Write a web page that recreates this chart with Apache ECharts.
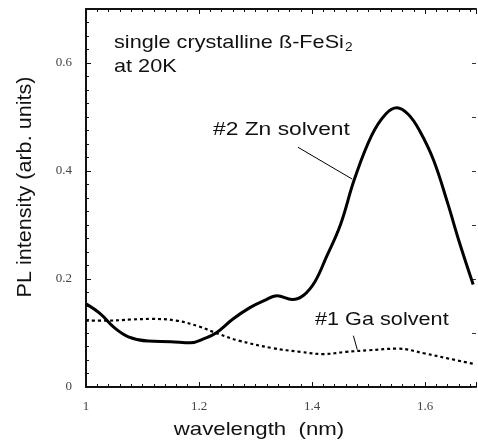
<!DOCTYPE html>
<html>
<head>
<meta charset="utf-8">
<script src="https://cdn.jsdelivr.net/npm/echarts@6/dist/echarts.min.js"></script>
<style>
  html, body { margin: 0; padding: 0; background: #fff; }
  #chart { width: 478px; height: 448px; }
</style>
</head>
<body>
<div id="chart"></div>
<script>
// #2 Zn solvent, solid curve: [wavelength, intensity]
const znSolvent = [
  [1.0, 0.154], [1.025, 0.136], [1.05, 0.11], [1.075, 0.093], [1.11, 0.085],
  [1.15, 0.084], [1.185, 0.082], [1.21, 0.09], [1.23, 0.1], [1.26, 0.126],
  [1.29, 0.147], [1.315, 0.16], [1.338, 0.169], [1.365, 0.162], [1.385, 0.17],
  [1.405, 0.195], [1.425, 0.24], [1.45, 0.3], [1.475, 0.385], [1.505, 0.465],
  [1.53, 0.505], [1.55, 0.517], [1.57, 0.505], [1.59, 0.475], [1.615, 0.42],
  [1.64, 0.34], [1.66, 0.27], [1.685, 0.19]
];
// #1 Ga solvent, dotted curve
const gaSolvent = [
  [1.0, 0.123], [1.04, 0.123], [1.08, 0.125], [1.115, 0.126], [1.16, 0.123],
  [1.2, 0.112], [1.235, 0.098], [1.27, 0.086], [1.33, 0.072], [1.38, 0.065],
  [1.42, 0.061], [1.46, 0.065], [1.5, 0.068], [1.55, 0.071], [1.6, 0.062],
  [1.64, 0.053], [1.685, 0.043]
];
// leader lines from the labels to the curves
const znLeader = [[1.375, 0.444], [1.471, 0.385]];
const gaLeader = [[1.473, 0.095], [1.48, 0.069]];

const xTicks = [1, 1.2, 1.4, 1.6];
const yTicks = [0, 0.2, 0.4, 0.6];

const chart = echarts.init(document.getElementById('chart'));

const serifLabel = {
  fontFamily: 'Liberation Serif',
  fontSize: 13,
  color: '#444'
};

function fmtX(v) {
  const hit = xTicks.find(t => Math.abs(t - v) < 1e-6);
  return hit === undefined ? '' : String(hit);
}
function fmtY(v) {
  const hit = yTicks.find(t => Math.abs(t - v) < 1e-6);
  if (hit === undefined) return '';
  return hit === 0 ? '0' : hit.toFixed(1);
}

// the scanned figure is stretched sideways, so texts get a small scaleX
const sans = '19px "Liberation Sans"';

const option = {
  animation: false,
  backgroundColor: '#fff',
  grid: { left: 86, top: 9, right: 2, bottom: 61 },
  xAxis: [
    {
      type: 'value', min: 1, max: 1.69, interval: 0.2,
      axisLine: { onZero: false, lineStyle: { color: '#111', width: 2 } },
      axisTick: { inside: true, length: 5, lineStyle: { color: '#111' } },
      minorTick: { show: true, splitNumber: 10, length: 3, lineStyle: { color: '#111' } },
      splitLine: { show: false },
      axisLabel: Object.assign({ margin: 13, formatter: fmtX, showMaxLabel: false }, serifLabel)
    },
    {
      type: 'value', position: 'top', min: 1, max: 1.69, interval: 0.2,
      axisLine: { onZero: false, lineStyle: { color: '#111', width: 2 } },
      axisTick: { inside: true, length: 5, lineStyle: { color: '#111' } },
      minorTick: { show: true, splitNumber: 10, length: 3, lineStyle: { color: '#111' } },
      splitLine: { show: false },
      axisLabel: { show: false }
    }
  ],
  yAxis: [
    {
      type: 'value', min: 0, max: 0.7, interval: 0.2,
      axisLine: { show: true, onZero: false, lineStyle: { color: '#111', width: 2 } },
      axisTick: { inside: true, length: 5, lineStyle: { color: '#111' } },
      minorTick: { show: true, splitNumber: 8, length: 3, lineStyle: { color: '#111' } },
      splitLine: { show: false },
      axisLabel: Object.assign({ margin: 14, formatter: fmtY, showMaxLabel: false }, serifLabel)
    },
    {
      type: 'value', position: 'right', min: 0, max: 0.7, interval: 0.1,
      axisLine: { show: false },
      axisTick: { show: true, inside: true, length: 4, lineStyle: { color: '#333' } },
      splitLine: { show: false },
      axisLabel: { show: false }
    }
  ],
  series: [
    {
      name: '#2 Zn solvent', type: 'line', smooth: 0.4, symbol: 'none',
      data: znSolvent,
      lineStyle: { color: '#000', width: 3 }
    },
    {
      name: '#1 Ga solvent', type: 'line', smooth: 0.4, symbol: 'none',
      data: gaSolvent,
      lineStyle: { color: '#000', width: 2.2, type: [3, 3] }
    },
    {
      type: 'line', symbol: 'none', data: znLeader,
      lineStyle: { color: '#000', width: 1 }, silent: true
    },
    {
      type: 'line', symbol: 'none', data: gaLeader,
      lineStyle: { color: '#000', width: 1 }, silent: true
    }
  ],
  graphic: [
    {
      type: 'text', x: 114, y: 32, scaleX: 1.14,
      style: {
        text: 'single crystalline ß-FeSi{sub|2}',
        font: sans, fill: '#111', verticalAlign: 'top',
        rich: { sub: { fontSize: 12, padding: [10, 0, 0, 1], fill: '#111' } }
      }
    },
    {
      type: 'text', x: 114, y: 57, scaleX: 1.14,
      style: { text: 'at 20K', font: sans, fill: '#111', verticalAlign: 'top' }
    },
    {
      type: 'text', x: 213, y: 120, scaleX: 1.2,
      style: { text: '#2 Zn solvent', font: sans, fill: '#111', verticalAlign: 'top' }
    },
    {
      type: 'text', x: 315, y: 310, scaleX: 1.14,
      style: { text: '#1 Ga solvent', font: sans, fill: '#111', verticalAlign: 'top' }
    },
    {
      type: 'text', x: 259, y: 430, scaleX: 1.17,
      style: { text: 'wavelength  (nm)', font: sans, fill: '#111', align: 'center', verticalAlign: 'middle' }
    },
    {
      type: 'text', x: 25, y: 187, rotation: Math.PI / 2, scaleX: 1.08,
      style: { text: 'PL intensity (arb. units)', font: '20px "Liberation Sans"', fill: '#111', align: 'center', verticalAlign: 'middle' }
    }
  ]
};

chart.setOption(option);
</script>
</body>
</html>
